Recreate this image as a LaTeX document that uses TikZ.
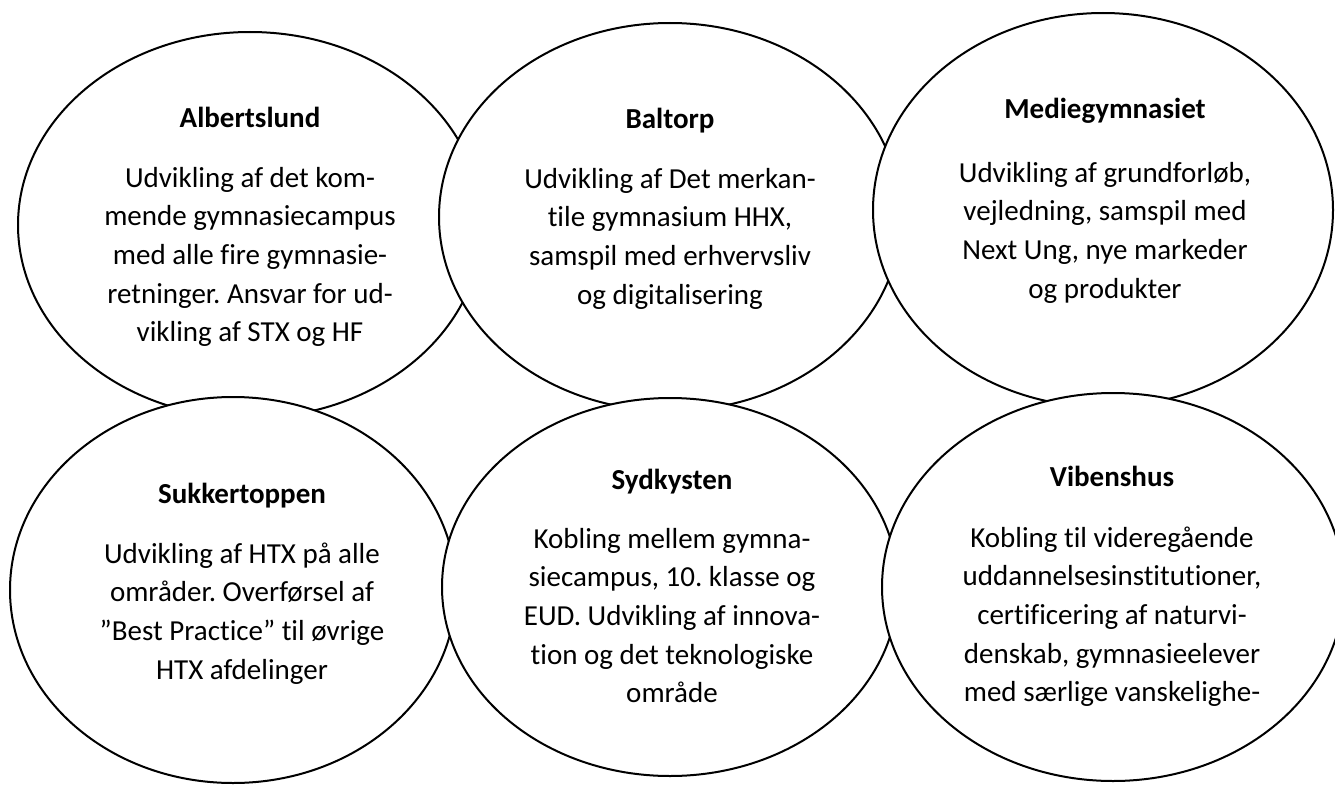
\documentclass[tikz,border=0pt]{standalone}
\usepackage{fontspec}
\setmainfont{Carlito}[Ligatures=NoCommon]
\frenchspacing
\usetikzlibrary{shapes.geometric,positioning}
\tikzset{
  campus/.style={ellipse,draw,fill=white,line width=2pt,inner sep=0pt},
  school/.style={anchor=base,inner sep=0pt,font=\fontsize{29}{35}\selectfont\bfseries},
  task/.style={align=center,inner sep=0pt,font=\fontsize{29}{38.6}\selectfont}
}

\begin{document}
\begin{tikzpicture}[x=1pt,y=-1pt]
    \useasboundingbox (0,0) rectangle (1335,784);
    \clip (0,0) rectangle (1335,784);
    %
    % -- Top row, drawn left to right so each one covers its left neighbour
    \node [campus, minimum width=464pt, minimum height=386pt] (alb) at (250,225) {};
    \node [school] (alb-t) at (250,127) {Albertslund};
    \node [task, below=33pt of alb-t.base] (alb-b) {\strut Udvikling af det kom-\\
      mende gymnasiecampus\\med alle fire gymnasie-\\retninger. Ansvar for ud-\\
      vikling af STX og HF};

    \node [campus, minimum width=462pt, minimum height=388pt] (bal) at (670,217) {};
    \node [school] (bal-t) at (670,128) {Baltorp};
    \node [task, below=33pt of bal-t.base] (bal-b) {\strut Udvikling af Det merkan-\\
      tile gymnasium HHX,\\samspil med erhvervsliv\\og digitalisering};

    \node [campus, minimum width=460pt, minimum height=394pt] (med) at (1103,210) {};
    \node [school] (med-t) at (1105,118) {Mediegymnasiet};
    \node [task, below=37pt of med-t.base] (med-b) {\strut Udvikling af grundforløb,\\
      vejledning, samspil med\\Next Ung, nye markeder\\og produkter};

    % -- Bottom row
    \node [campus, minimum width=446pt, minimum height=386pt] (suk) at (233,590) {};
    \node [school] (suk-t) at (242,503) {Sukkertoppen};
    \node [task, below=33pt of suk-t.base] (suk-b) {\strut Udvikling af HTX på alle\\
      områder. Overførsel af\\”Best Practice” til øvrige\\HTX afdelinger};

    \node [campus, minimum width=456pt, minimum height=378pt] (syd) at (670,587) {};
    \node [school] (syd-t) at (672,489) {Sydkysten};
    \node [task, below=32pt of syd-t.base] (syd-b) {\strut Kobling mellem gymna-\\
      siecampus, 10. klasse og\\EUD. Udvikling af innova-\\tion og det teknologiske\\område};

    \node [campus, minimum width=462pt, minimum height=388pt] (vib) at (1113,587) {};
    \node [school] (vib-t) at (1112,486) {Vibenshus};
    \node [task, below=34pt of vib-t.base] (vib-b) {\strut Kobling til videregående\\
      uddannelsesinstitutioner,\\certificering af naturvi-\\denskab, gymnasieelever\\
      med særlige vanskelighe-};
\end{tikzpicture}
\end{document}
